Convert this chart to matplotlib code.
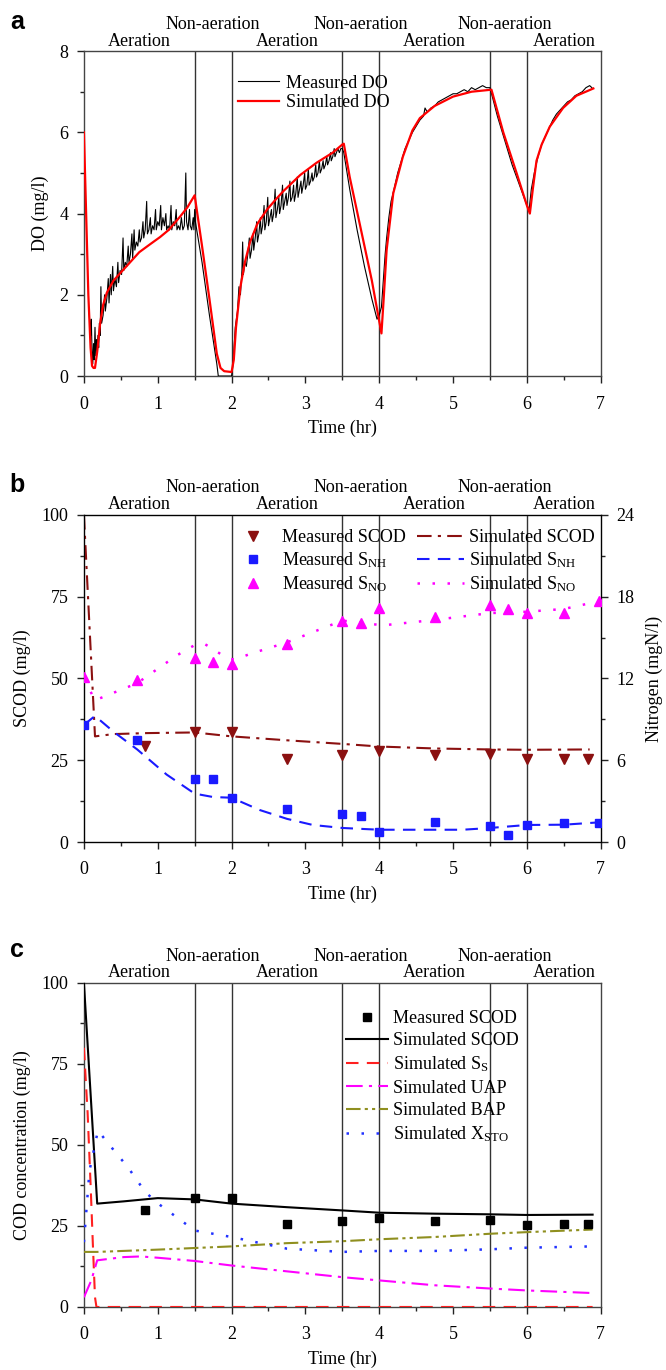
import numpy as np
import matplotlib
matplotlib.use("Agg")
from matplotlib import pyplot as plt
from matplotlib.ticker import MultipleLocator

plt.rcParams['font.family'] = ['Liberation Serif', 'DejaVu Serif']
plt.rcParams['mathtext.fontset'] = 'custom'
plt.rcParams['mathtext.rm'] = 'Liberation Serif'
plt.rcParams['mathtext.it'] = 'Liberation Serif:italic'
plt.rcParams['font.size'] = 13

# ---- data: panel a (DO) ----
t_do_meas = [0.07, 0.09, 0.10, 0.11, 0.12, 0.13, 0.14, 0.15, 0.16, 0.17, 0.18, 0.19, 0.20, 0.21, 0.22,
             0.23, 0.24, 0.26, 0.28, 0.29, 0.31, 0.33, 0.34, 0.36, 0.37, 0.39, 0.40, 0.42, 0.44, 0.46,
             0.47, 0.49, 0.51, 0.53, 0.54, 0.56, 0.58, 0.60, 0.61, 0.63, 0.65, 0.66, 0.68, 0.69, 0.71,
             0.73, 0.75, 0.76, 0.78, 0.80, 0.81, 0.83, 0.85, 0.86, 0.88, 0.90, 0.91, 0.93, 0.95, 0.97,
             0.98, 1.00, 1.02, 1.04, 1.05, 1.07, 1.09, 1.11, 1.12, 1.14, 1.16, 1.18, 1.19, 1.21, 1.23,
             1.25, 1.26, 1.28, 1.30, 1.32, 1.34, 1.36, 1.38, 1.39, 1.41, 1.43, 1.44, 1.46, 1.48, 1.49,
             1.50, 1.51, 1.60, 1.70, 1.80, 1.82, 2.00, 2.02, 2.05, 2.08, 2.10, 2.12, 2.14, 2.15, 2.16,
             2.18, 2.20, 2.22, 2.24, 2.25, 2.27, 2.29, 2.30, 2.32, 2.34, 2.35, 2.37, 2.39, 2.40, 2.42,
             2.44, 2.45, 2.47, 2.49, 2.50, 2.52, 2.54, 2.55, 2.57, 2.59, 2.60, 2.62, 2.64, 2.65, 2.67,
             2.69, 2.70, 2.72, 2.74, 2.75, 2.77, 2.79, 2.80, 2.82, 2.84, 2.85, 2.87, 2.89, 2.90, 2.92,
             2.94, 2.95, 2.97, 2.99, 3.00, 3.02, 3.04, 3.05, 3.07, 3.09, 3.10, 3.12, 3.14, 3.15, 3.17,
             3.19, 3.20, 3.22, 3.24, 3.25, 3.27, 3.29, 3.30, 3.32, 3.34, 3.35, 3.37, 3.39, 3.40, 3.42,
             3.44, 3.46, 3.48, 3.50, 3.52, 3.60, 3.70, 3.80, 3.90, 3.97, 4.00, 4.03, 4.06, 4.08, 4.10,
             4.13, 4.16, 4.20, 4.25, 4.30, 4.35, 4.40, 4.45, 4.50, 4.55, 4.60, 4.62, 4.65, 4.70, 4.75,
             4.80, 4.85, 4.90, 4.95, 5.00, 5.05, 5.10, 5.15, 5.20, 5.25, 5.30, 5.35, 5.40, 5.45, 5.50,
             5.60, 5.70, 5.80, 5.90, 6.00, 6.03, 6.06, 6.10, 6.15, 6.20, 6.25, 6.30, 6.35, 6.40, 6.45,
             6.50, 6.55, 6.60, 6.65, 6.70, 6.75, 6.80, 6.85, 6.88]
do_meas = [1.6, 1.0, 1.4, 0.6, 0.3, 0.8, 0.4, 1.2, 0.5, 0.9, 0.6, 1.0, 0.7, 1.3, 1.0,
           2.2, 1.3, 1.5, 2.0, 1.6, 1.9, 2.4, 1.8, 2.5, 2.0, 2.7, 2.1, 2.4, 2.2, 2.8,
           2.3, 2.6, 2.5, 3.4, 2.6, 2.8, 2.7, 3.2, 2.8, 3.0, 3.5, 2.9, 3.6, 3.1, 3.3,
           3.2, 3.6, 3.3, 3.4, 3.8, 3.4, 3.6, 4.3, 3.5, 3.6, 3.9, 3.5, 3.7, 3.6, 4.1,
           3.6, 3.8, 3.7, 4.2, 3.6, 3.9, 3.7, 4.0, 3.6, 3.7, 3.6, 4.2, 3.6, 3.8, 3.7,
           4.1, 3.6, 3.7, 3.6, 3.9, 3.6, 3.7, 5.0, 3.8, 3.6, 4.1, 3.7, 3.6, 3.9, 3.6,
           4.1, 3.8, 2.8, 1.5, 0.3, 0.0, 0.0, 0.3, 1.2, 1.6, 2.2, 2.0, 2.6, 3.3, 2.5,
           2.8, 2.7, 3.0, 3.4, 2.9, 3.1, 3.5, 3.1, 3.4, 3.8, 3.3, 3.5, 3.9, 3.5, 3.7,
           4.2, 3.6, 3.8, 4.4, 3.7, 3.9, 4.1, 3.8, 4.0, 4.6, 3.9, 4.1, 4.4, 4.0, 4.2,
           4.7, 4.1, 4.3, 4.5, 4.2, 4.4, 4.8, 4.3, 4.4, 4.7, 4.3, 4.5, 4.9, 4.4, 4.6,
           4.8, 4.5, 4.7, 5.0, 4.6, 4.7, 5.1, 4.7, 4.8, 5.0, 4.8, 4.9, 5.2, 4.9, 5.0,
           5.3, 5.0, 5.1, 5.3, 5.1, 5.2, 5.4, 5.2, 5.3, 5.5, 5.3, 5.4, 5.6, 5.4, 5.5,
           5.6, 5.5, 5.6, 5.6, 5.5, 4.6, 3.6, 2.7, 1.9, 1.4, 1.5, 1.7, 2.5, 3.0, 3.4,
           3.9, 4.3, 4.6, 5.0, 5.3, 5.6, 5.8, 6.0, 6.15, 6.3, 6.4, 6.6, 6.5, 6.6, 6.65,
           6.75, 6.8, 6.85, 6.9, 6.95, 6.95, 7.0, 7.05, 7.0, 7.1, 7.05, 7.1, 7.15, 7.1, 7.1,
           6.4, 5.8, 5.2, 4.7, 4.2, 4.1, 4.6, 5.0, 5.4, 5.7, 5.9, 6.1, 6.3, 6.45, 6.55,
           6.65, 6.75, 6.8, 6.9, 6.95, 7.0, 7.1, 7.15, 7.1]

t_do_sim = [0.0, 0.03, 0.06, 0.09, 0.11, 0.13, 0.15, 0.18, 0.22, 0.26, 0.31, 0.4, 0.5, 0.6, 0.75,
            0.9, 1.03, 1.15, 1.3, 1.4, 1.5, 1.6, 1.7, 1.8, 1.85, 1.9, 2.0, 2.03, 2.06, 2.12,
            2.18, 2.25, 2.35, 2.48, 2.6, 2.7, 2.93, 3.15, 3.37, 3.5, 3.52, 3.6, 3.7, 3.8, 3.9,
            4.0, 4.03, 4.06, 4.1, 4.19, 4.32, 4.45, 4.55, 4.75, 5.0, 5.25, 5.52, 5.68, 5.86, 6.0,
            6.04, 6.08, 6.13, 6.2, 6.31, 6.49, 6.67, 6.9]
do_sim = [6.0, 4.0, 2.0, 0.7, 0.25, 0.2, 0.2, 0.6, 1.3, 1.75, 2.05, 2.35, 2.55, 2.75, 3.05,
          3.25, 3.42, 3.6, 3.92, 4.15, 4.45, 3.2, 1.9, 0.55, 0.2, 0.12, 0.1, 0.4, 1.2, 2.2,
          2.8, 3.3, 3.75, 4.1, 4.35, 4.55, 4.95, 5.25, 5.5, 5.7, 5.72, 4.9, 4.05, 3.2, 2.35,
          1.35, 1.05, 1.9, 3.1, 4.5, 5.4, 6.05, 6.35, 6.65, 6.88, 7.0, 7.05, 6.0, 5.0, 4.2,
          4.0, 4.6, 5.3, 5.7, 6.14, 6.6, 6.9, 7.08]

# ---- data: panel b (SCOD, S_NH, S_NO) ----
t_scod_meas = [0.83, 1.5, 2.0, 2.75, 3.5, 4.0, 4.75, 5.5, 6.0, 6.5, 6.83]
scod_meas_b = [29.5, 33.5, 33.5, 25.5, 26.5, 27.7, 26.5, 26.8, 25.3, 25.3, 25.3]
t_scod_sim = [0.0, 0.15, 0.4, 0.85, 1.5, 2.0, 2.75, 3.5, 4.0, 4.75, 5.5, 6.0, 6.85]
scod_sim_b = [100, 32.3, 33.0, 33.3, 33.5, 32.3, 31.1, 30.0, 29.2, 28.6, 28.3, 28.2, 28.3]

t_n_meas = [0.0, 0.72, 1.5, 1.75, 2.0, 2.75, 3.5, 3.75, 4.0, 4.75, 5.5, 5.75, 6.0, 6.5, 6.97]
snh_meas = [8.6, 7.5, 4.65, 4.65, 3.25, 2.4, 2.07, 1.92, 0.74, 1.48, 1.18, 0.5, 1.25, 1.4, 1.42]
sno_meas = [12.1, 11.9, 13.5, 13.2, 13.1, 14.5, 16.2, 16.1, 17.2, 16.5, 17.4, 17.1, 16.8, 16.8, 17.7]

t_snh_sim = [0.0, 0.15, 0.4, 0.72, 1.12, 1.5, 1.75, 2.0, 2.38, 2.75, 3.1, 3.5, 4.0, 4.75, 5.13, 5.5, 6.0, 6.5, 7.0]
snh_sim = [8.6, 9.25, 8.1, 6.8, 4.95, 3.55, 3.3, 3.25, 2.35, 1.7, 1.25, 1.03, 0.9, 0.9, 0.9, 1.03, 1.25, 1.27, 1.45]
t_sno_sim = [0.0, 0.15, 0.72, 1.26, 1.5, 1.63, 1.75, 1.95, 2.05, 2.25, 2.75, 3.1, 3.5, 4.05, 4.75, 5.5, 6.0, 6.5, 7.0]
sno_sim = [12.0, 10.4, 11.65, 13.7, 14.45, 14.55, 14.15, 13.45, 13.4, 13.8, 14.65, 15.4, 16.25, 15.9, 16.3, 16.8, 16.9, 17.1, 17.7]

# ---- data: panel c (COD fractions) ----
scod_meas_c = [29.8, 33.7, 33.7, 25.7, 26.4, 27.5, 26.6, 26.7, 25.4, 25.6, 25.6]
t_c_sim = [0.0, 0.18, 0.54, 1.0, 1.5, 2.0, 2.75, 3.5, 4.0, 4.75, 5.5, 6.0, 6.89]
scod_sim_c = [100, 31.9, 32.6, 33.6, 33.2, 31.9, 30.8, 29.8, 29.1, 28.8, 28.6, 28.4, 28.5]
t_ss = [0.0, 0.05, 0.09, 0.12, 0.15, 0.17, 6.89]
ss_sim = [80, 60, 38, 20, 3, 0, 0]
t_uap = [0.0, 0.1, 0.18, 0.54, 0.77, 1.0, 1.5, 2.0, 2.75, 3.5, 4.0, 4.75, 5.5, 6.0, 6.89]
uap_sim = [3.0, 8.2, 14.4, 15.4, 15.6, 15.2, 14.2, 12.8, 11.0, 9.2, 8.2, 6.7, 5.7, 5.1, 4.3]
t_bap = [0.0, 0.18, 1.0, 2.0, 2.75, 3.5, 4.0, 4.75, 5.5, 6.0, 6.89]
bap_sim = [17.0, 17.0, 17.7, 18.7, 19.7, 20.3, 20.9, 21.6, 22.6, 23.1, 23.9]
t_xsto = [0.0, 0.075, 0.19, 0.31, 0.6, 0.83, 1.0, 1.5, 2.0, 2.33, 2.75, 3.5, 4.0, 4.75, 5.5, 6.0, 6.89]
xsto_sim = [20.0, 42.0, 54.5, 51.0, 43.0, 35.5, 32.0, 23.6, 21.6, 20.0, 18.0, 17.0, 17.3, 17.3, 17.8, 18.3, 18.7]

phase_lines = [1.5, 2.0, 3.5, 4.0, 5.5, 6.0]
aer_x = [0.75, 2.75, 4.75, 6.5]
nonaer_x = [1.75, 3.75, 5.7]

scod_red = '#8b1010'
olive = '#8f8f1f'

fig = plt.figure(figsize=(6.66, 13.70), dpi=100)
L, W = 0.126, 0.776
ax_a = fig.add_axes([L, 0.7255, W, 0.2372])
ax_b = fig.add_axes([L, 0.3854, W, 0.2387])
ax_c = fig.add_axes([L, 0.046, W, 0.2365])


def frame(ax, ymax, ymaj, ymin):
    ax.set_xlim(0, 7)
    ax.set_ylim(0, ymax)
    ax.xaxis.set_major_locator(MultipleLocator(1))
    ax.xaxis.set_minor_locator(MultipleLocator(0.5))
    ax.yaxis.set_major_locator(MultipleLocator(ymaj))
    ax.yaxis.set_minor_locator(MultipleLocator(ymin))
    ax.tick_params(which='major', direction='out', length=5, width=1, colors='#222222', labelcolor='black', pad=6)
    ax.tick_params(which='minor', direction='out', length=3, width=1, colors='#222222')
    ax.tick_params(axis='x', which='major', pad=9)
    for s in ax.spines.values():
        s.set_color('#444444')
        s.set_linewidth(1.0)
    for x in phase_lines:
        ax.axvline(x, color='#333333', lw=1.0, zorder=1)
    for x in aer_x:
        ax.text(x, 1.031, 'Aeration', transform=ax.get_xaxis_transform(), ha='center', va='center')
    for x in nonaer_x:
        ax.text(x, 1.083, 'Non-aeration', transform=ax.get_xaxis_transform(), ha='center', va='center')
    ax.set_xlabel('Time (hr)', labelpad=5)


# panel a
frame(ax_a, 8, 2, 1)
ax_a.plot(t_do_meas, do_meas, color='black', lw=0.8, label='Measured DO', zorder=3)
ax_a.plot(t_do_sim, do_sim, color='#ff0000', lw=1.6, label='Simulated DO', zorder=4)
ax_a.set_ylabel('DO (mg/l)', labelpad=8)
ax_a.legend(loc='upper left', bbox_to_anchor=(0.28, 0.955), frameon=False, borderpad=0,
            handlelength=2.3, handletextpad=0.4, labelspacing=0.15)

# panel b
frame(ax_b, 100, 25, 12.5)
ax_b2 = ax_b.twinx()
ax_b2.set_ylim(0, 24)
ax_b2.yaxis.set_major_locator(MultipleLocator(6))
ax_b2.yaxis.set_minor_locator(MultipleLocator(3))
ax_b2.tick_params(which='major', direction='out', length=5, width=1, colors='#222222', labelcolor='black', pad=6)
ax_b2.tick_params(which='minor', direction='out', length=3, width=1, colors='#222222')
ax_b2.set_ylabel('Nitrogen (mgN/l)', labelpad=8)
h1, = ax_b.plot(t_scod_meas, scod_meas_b, 'v', color=scod_red, ms=7, ls='none', label='Measured SCOD', zorder=5)
h2, = ax_b2.plot(t_n_meas, snh_meas, 's', color='#1a1aff', ms=6, ls='none', label='Measured S$_{\\mathrm{NH}}$', zorder=5)
h3, = ax_b2.plot(t_n_meas, sno_meas, '^', color='#ff00ff', ms=7, ls='none', label='Measured S$_{\\mathrm{NO}}$', zorder=5)
h4, = ax_b.plot(t_scod_sim, scod_sim_b, color=scod_red, lw=1.5, dashes=[7, 3, 1.5, 3], label='Simulated SCOD', zorder=4)
h5, = ax_b2.plot(t_snh_sim, snh_sim, color='#1a1aff', lw=1.5, dashes=[6, 4], label='Simulated S$_{\\mathrm{NH}}$', zorder=4)
h6, = ax_b2.plot(t_sno_sim, sno_sim, color='#ff00ff', lw=1.8, dashes=[1, 5], label='Simulated S$_{\\mathrm{NO}}$', zorder=4)
ax_b.set_ylabel('SCOD (mg/l)', labelpad=8)
ax_b2.legend(handles=[h1, h2, h3, h4, h5, h6], ncol=2, loc='upper left', bbox_to_anchor=(0.265, 0.985),
             frameon=False, borderpad=0, handlelength=2.6, handletextpad=0.3, columnspacing=0.6,
             labelspacing=0.25, numpoints=1)

# panel c
frame(ax_c, 100, 25, 12.5)
ax_c.plot(t_scod_meas, scod_meas_c, 's', color='black', ms=6, ls='none', label='Measured SCOD', zorder=5)
ax_c.plot(t_c_sim, scod_sim_c, color='black', lw=1.5, label='Simulated SCOD', zorder=4)
ax_c.plot(t_ss, ss_sim, color='#ff2020', lw=1.5, dashes=[6, 4], label='Simulated S$_{\\mathrm{S}}$', zorder=4)
ax_c.plot(t_uap, uap_sim, color='#ff00ff', lw=1.5, dashes=[8, 3, 1.5, 3], label='Simulated UAP', zorder=4)
ax_c.plot(t_bap, bap_sim, color=olive, lw=1.5, dashes=[7, 2, 1.5, 2, 1.5, 2], label='Simulated BAP', zorder=4)
ax_c.plot(t_xsto, xsto_sim, color='#2233ff', lw=1.8, dashes=[1, 5], label='Simulated X$_{\\mathrm{STO}}$', zorder=4)
ax_c.set_ylabel('COD concentration (mg/l)', labelpad=8)
ax_c.legend(loc='upper left', bbox_to_anchor=(0.49, 0.945), frameon=False, borderpad=0,
            handlelength=2.3, handletextpad=0.3, labelspacing=0.3, numpoints=1)

for lab, y in [('a', 1 - 22 / 1370), ('b', 1 - 485 / 1370), ('c', 1 - 950 / 1370)]:
    fig.text(17 / 666, y, lab, ha='center', va='center', fontsize=18, fontweight='bold',
             family=['Liberation Sans', 'DejaVu Sans'])

fig.savefig('out.png', dpi=100)
